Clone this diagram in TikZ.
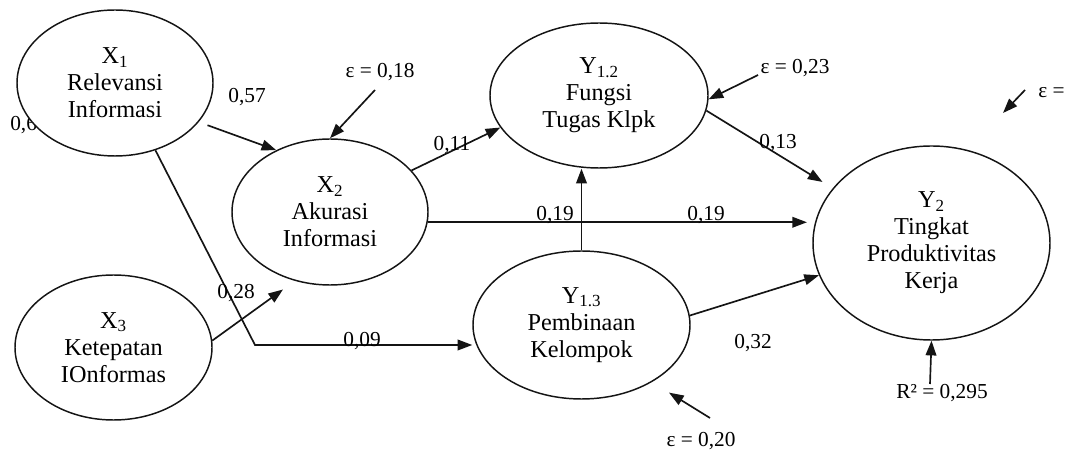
\documentclass[tikz,border=0pt]{standalone}
\usepackage{fontspec}
\setmainfont{Liberation Serif}
\usepackage{tikz}
\usetikzlibrary{arrows.meta,shapes.geometric}
\definecolor{figline}{RGB}{20,20,20}
\tikzset{
  lv/.style  ={ellipse, draw=figline, line width=1.1pt, fill=white, inner sep=0pt, align=center, font=\fontsize{18.2}{20.3}\selectfont},
  lab/.style ={font=\fontsize{16}{19}\selectfont, inner sep=0pt},
  ptr/.style ={draw=figline, line width=1.25pt, -{Triangle[length=11pt,width=8pt]}},
}

\begin{document}
\begin{tikzpicture}[x=0.75pt,y=-0.75pt]
  \useasboundingbox (0,0) rectangle (1065,452);
  \node[lab,anchor=west] (l06) at (10,125) {0,6};
  \node[lv,minimum width=147pt,minimum height=109.5pt] (x1) at (115,83) {X\textsubscript{1}\\Relevansi\\Informasi};
  \node[lv,minimum width=147pt,minimum height=109.5pt] (x2) at (330,212) {X\textsubscript{2}\\Akurasi\\Informasi};
  \node[lv,minimum width=147.75pt,minimum height=108.75pt] (x3) at (113.5,347.5) {X\textsubscript{3}\\Ketepatan\\IOnformas};
  \node[lv,minimum width=163.5pt,minimum height=108.75pt] (y12) at (599,95.5) {Y\textsubscript{1.2}\\Fungsi\\Tugas Klpk};
  \node[lv,minimum width=162.75pt,minimum height=111pt] (y13) at (581.5,325) {Y\textsubscript{1.3}\\Pembinaan\\Kelompok};
  \node[lv,minimum width=177.75pt,minimum height=145.5pt] (y2) at (931.5,243) {Y\textsubscript{2}\\Tingkat\\Produktivitas\\Kerja};
  \coordinate (bend) at (255,345);
  \draw[ptr,shorten <=7pt] (x1.-25) -- (x2.131);
  \draw[ptr] (x1.-59) -- (bend) -- (bend -| y13.west);
  \draw[ptr,shorten >=11pt] (x3.4) -- (x2.243);
  \draw[ptr] (x2.27) -- (y12.198);
  \draw[ptr,shorten >=4pt] (x2.-6) -- (x2.-6 -| y2.west);
  \draw[ptr] (y13.north) -- (y13.north |- y12.south);
  \draw[ptr,shorten >=9pt] (y12.-8) -- (y2.151);
  \draw[ptr] (y13.5) -- (y2.196);
  \coordinate (e18) at (375,90);
  \coordinate (e23) at (758,75);
  \coordinate (e20) at (710,418);
  \coordinate (r2) at (930,384);
  \coordinate (ey2a) at (1025,90);
  \coordinate (ey2b) at (1003,113);
  \draw[ptr] (e18) -- (x2.north);
  \draw[ptr] (e23) -- (y12.-2);
  \draw[ptr,shorten >=15pt] (e20) -- (y13.-39);
  \draw[ptr] (r2) -- (y2.south);
  \draw[ptr] (ey2a) -- (ey2b);
  \node[lab] (l57) at (247,97) {0,57};
  \node[lab] (le18) at (380,72) {ε = 0,18};
  \node[lab] (l11) at (452,145) {0,11};
  \node[lab] (l19a) at (555,215) {0,19};
  \node[lab] (l19b) at (706,215) {0,19};
  \node[lab] (l13) at (778,143) {0,13};
  \node[lab] (le23) at (795,68) {ε = 0,23};
  \node[lab,anchor=west] (ley2) at (1038,93) {ε =};
  \node[lab] (l28) at (236,293) {0,28};
  \node[lab] (l09) at (362,341) {0,09};
  \node[lab] (l32) at (753,343) {0,32};
  \node[lab] (le20) at (701,441) {ε = 0,20};
  \node[lab] (lr2) at (942,393) {R² = 0,295};
\end{tikzpicture}
\end{document}
